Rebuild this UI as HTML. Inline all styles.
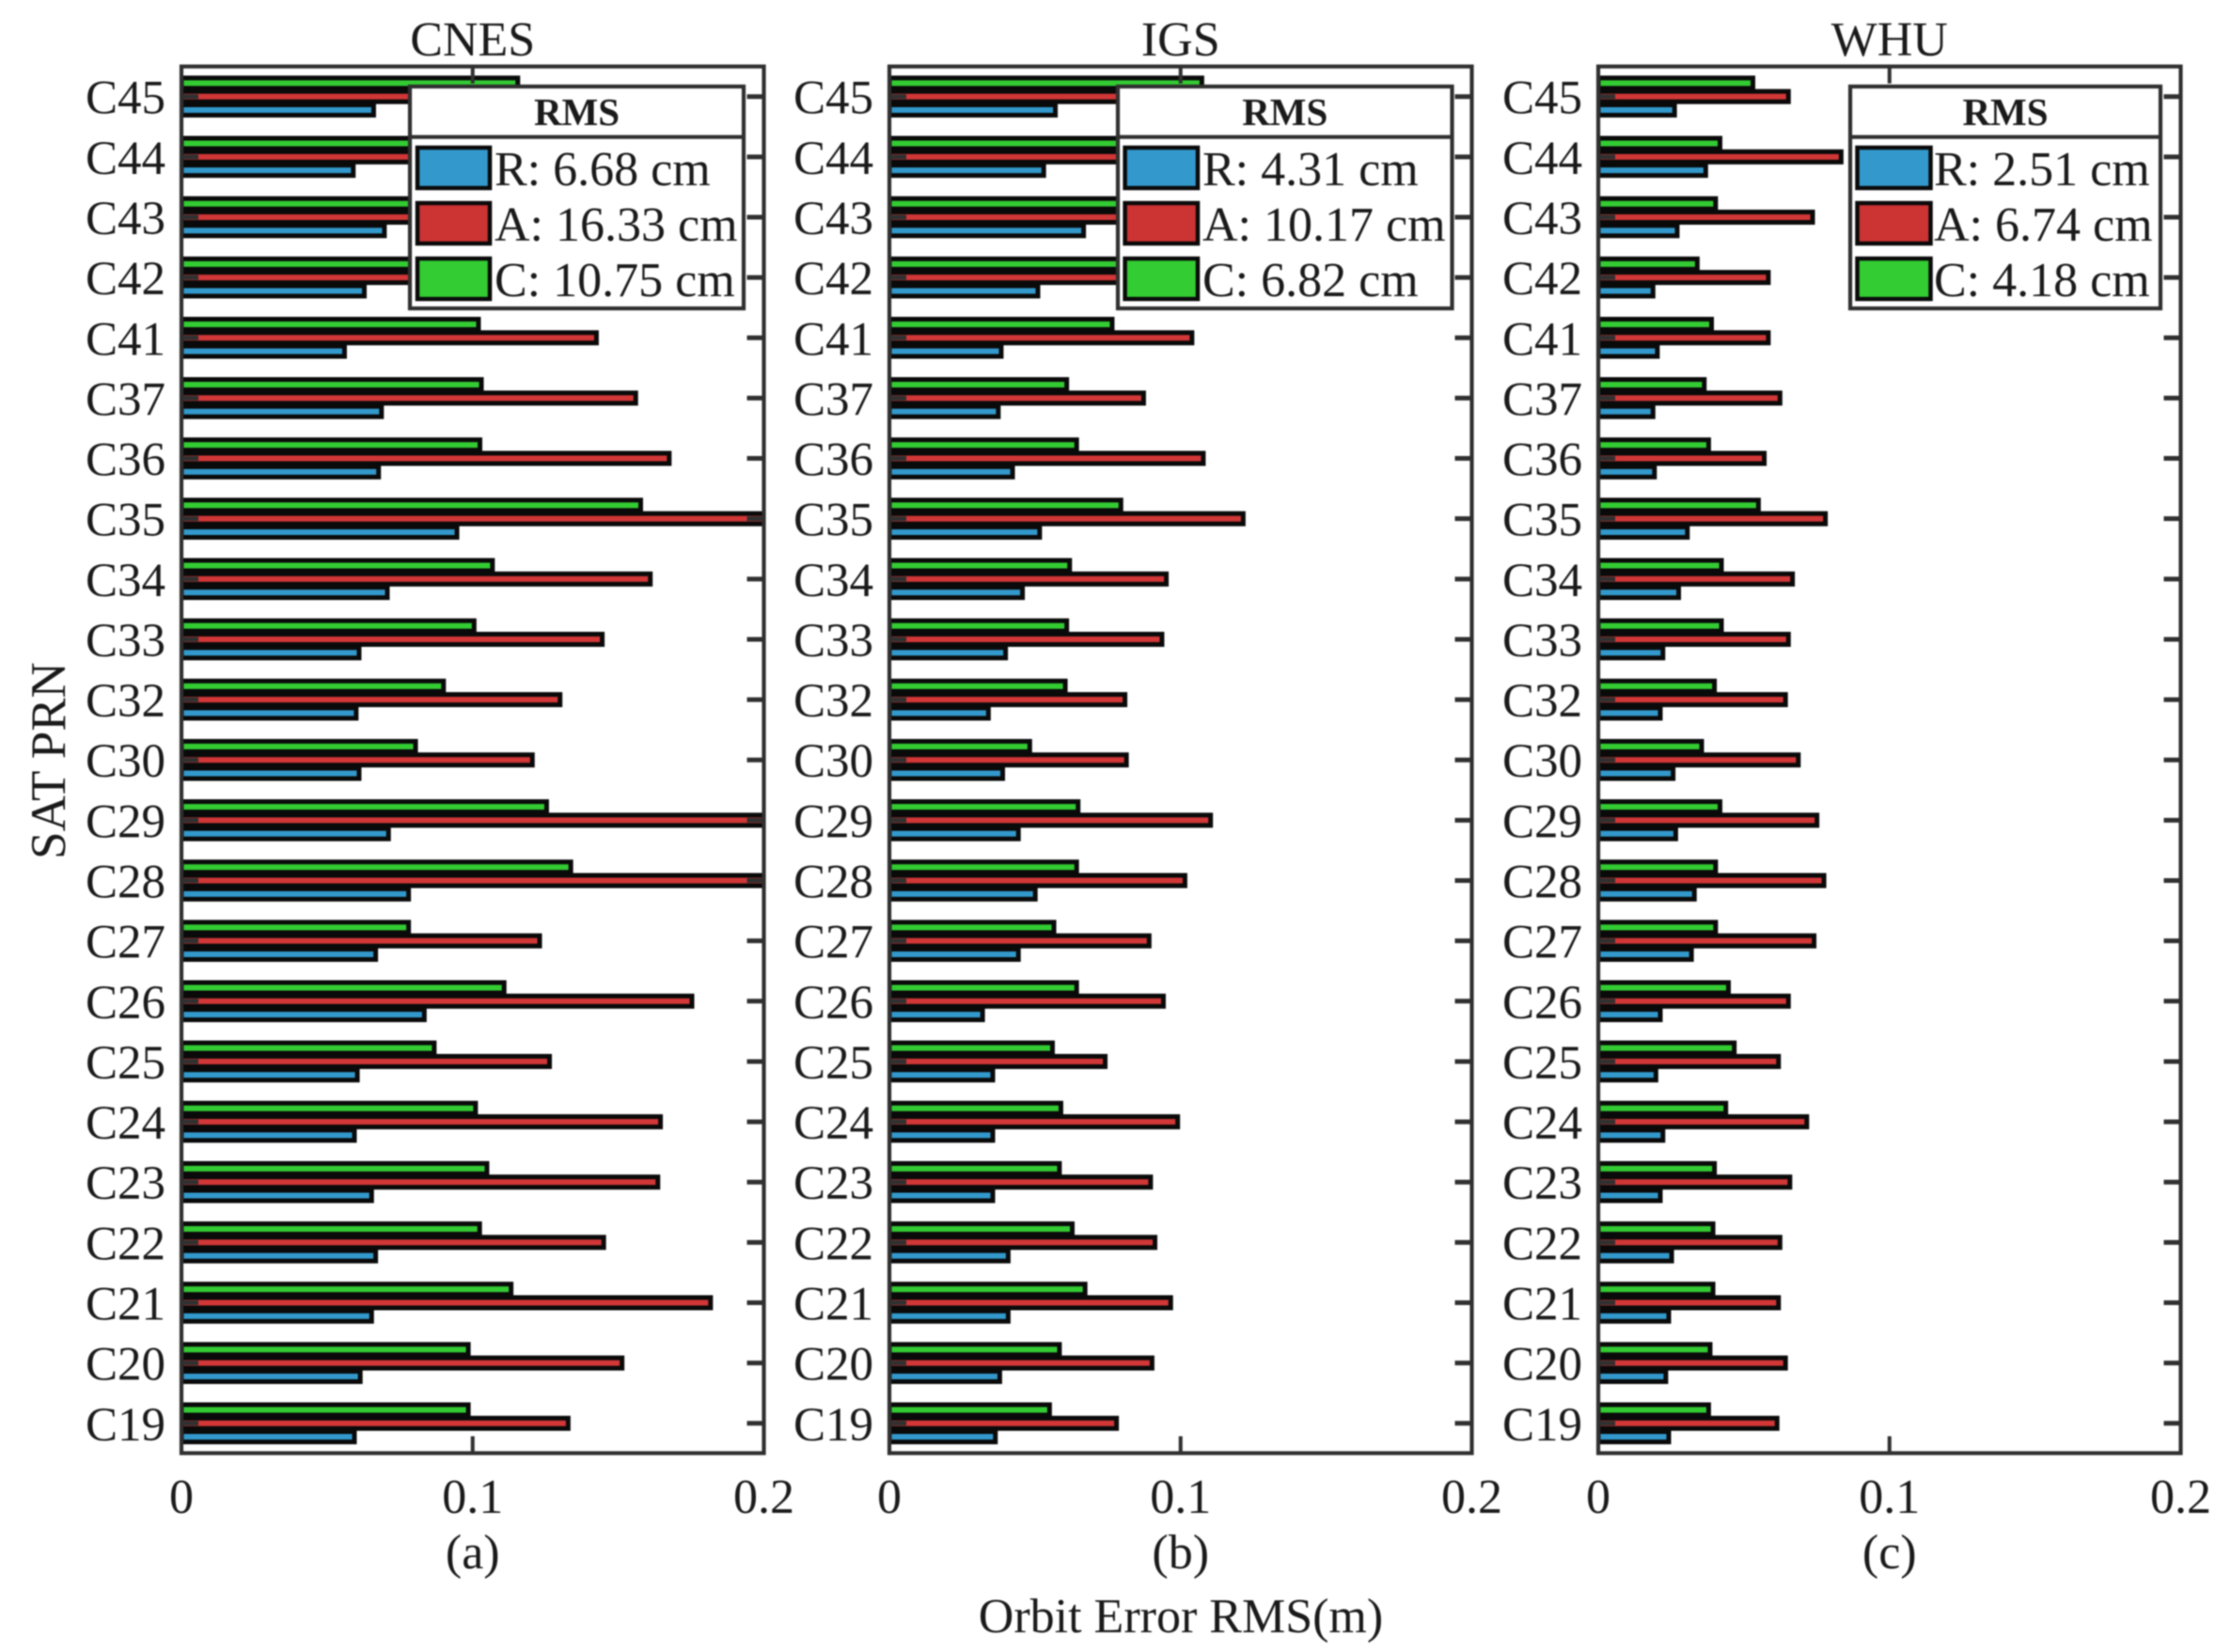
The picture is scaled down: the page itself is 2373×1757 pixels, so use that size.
<!DOCTYPE html>
<html lang="en">
<head>
<meta charset="utf-8">
<title>Orbit Error RMS by satellite PRN</title>
<style>
  html, body { margin: 0; padding: 0; background: #ffffff; }
  #figure { display: block; width: 2373px; height: 1757px; filter: blur(0.8px); }
  text { font-family: "Liberation Serif", serif; fill: #1a1a1a; }
</style>
</head>
<body>
<svg id="figure" xmlns="http://www.w3.org/2000/svg" width="2373" height="1757" viewBox="0 0 2373 1757">
  <rect x="0" y="0" width="2373" height="1757" fill="#ffffff"/>
  <g id="panels"></g>
  <text transform="translate(69,809) rotate(-90)" text-anchor="middle" font-size="53">SAT PRN</text>
  <text x="1256" y="1736" text-anchor="middle" font-size="52">Orbit Error RMS(m)</text>
</svg>
<script>
// Chart data: categories run from the top of each panel to the bottom.
const categories = ['C45','C44','C43','C42','C41','C37','C36','C35','C34','C33','C32','C30','C29','C28','C27','C26','C25','C24','C23','C22','C21','C20','C19'];
const xTickValues = [0, 0.1, 0.2];
const xTickLabels = ['0', '0.1', '0.2'];

const cnesRadial = [.066,.059,.0697,.0628,.056,.0687,.0677,.0946,.0707,.061,.06,.061,.0711,.078,.0667,.0834,.0604,.0594,.0653,.0667,.0653,.0614,.0594];
const cnesAlong  = [.16,.16,.16,.16,.1425,.156,.1675,.22,.161,.1445,.13,.1205,.22,.21,.123,.1753,.1264,.1645,.1636,.145,.1817,.1513,.1328];
const cnesCross  = [.1155,.105,.105,.10,.102,.103,.1025,.1577,.1068,.1005,.09,.0804,.1254,.1337,.078,.1108,.0868,.101,.1049,.1024,.1132,.0985,.0985];

const igsRadial = [.057,.053,.0667,.051,.0384,.0374,.0423,.0516,.0457,.0399,.034,.0389,.0443,.0501,.0443,.032,.0355,.0355,.0355,.0408,.0408,.0379,.0364];
const igsAlong  = [.12,.12,.12,.12,.1039,.0873,.1078,.1215,.0951,.0936,.0809,.0814,.1103,.1015,.0892,.0941,.0741,.099,.0897,.0912,.0966,.0902,.078];
const igsCross  = [.1073,.10,.10,.09,.0765,.0609,.0643,.0795,.0619,.0609,.0604,.0482,.0648,.0643,.0565,.0643,.056,.0589,.0584,.0628,.0672,.0584,.055];

const whuRadial = [.0262,.0369,.0271,.0188,.0203,.0188,.0193,.0306,.0276,.0222,.0213,.0257,.0266,.033,.032,.0213,.0198,.0222,.0213,.0252,.0242,.0232,.0242];
const whuAlong  = [.0653,.0834,.0736,.0584,.0584,.0624,.057,.078,.0667,.0653,.0643,.0687,.0751,.0775,.0741,.0653,.0619,.0716,.0658,.0624,.0619,.0643,.0614];
const whuCross  = [.0531,.0418,.0403,.034,.0389,.0364,.0379,.055,.0423,.0423,.0399,.0355,.0418,.0403,.0403,.0447,.0467,.0438,.0399,.0394,.0394,.0384,.0379];

const cnesLegendLabels = ['R: 6.68 cm', 'A: 16.33 cm', 'C: 10.75 cm'];
const igsLegendLabels  = ['R: 4.31 cm', 'A: 10.17 cm', 'C: 6.82 cm'];
const whuLegendLabels  = ['R: 2.51 cm', 'A: 6.74 cm', 'C: 4.18 cm'];

// Layout
const NS = 'http://www.w3.org/2000/svg';
const plotTop = 70.7, plotBottom = 1545.5, plotWidth = 619.5;
const firstCategoryY = 102.7, categoryStep = 64.14, barOffset = 14.3, barHeight = 11;
const tickLength = 18, xMax = 0.2;
const axisColor = '#303030';
const seriesFill = { radial: '#3399cc', along: '#d23737', cross: '#33cc33' };
const legendFill = ['#3399cc', '#cc3333', '#33cc33'];

const panelConfigs = [
  { key: 'cnes', title: 'CNES', caption: '(a)', left: 193,  radial: cnesRadial, along: cnesAlong, cross: cnesCross, labels: cnesLegendLabels,
    legend: { x0: 436,  x1: 791,  patchX0: 442,    patchX1: 523,    textX: 526 } },
  { key: 'igs',  title: 'IGS',  caption: '(b)', left: 946,  radial: igsRadial,  along: igsAlong,  cross: igsCross,  labels: igsLegendLabels,
    legend: { x0: 1189, x1: 1544.5, patchX0: 1194.6, patchX1: 1276,   textX: 1279 } },
  { key: 'whu',  title: 'WHU',  caption: '(c)', left: 1700, radial: whuRadial,  along: whuAlong,  cross: whuCross,  labels: whuLegendLabels,
    legend: { x0: 1968, x1: 2298, patchX0: 1973.5, patchX1: 2055.5, textX: 2057 } }
];

function yScale(index) {
  return firstCategoryY + index * categoryStep;
}
function xScale(panel, value) {
  return panel.left + (value / xMax) * plotWidth;
}
function make(tag, attrs, parent, text) {
  const el = document.createElementNS(NS, tag);
  for (const k in attrs) el.setAttribute(k, attrs[k]);
  if (text !== undefined) el.textContent = text;
  parent.appendChild(el);
  return el;
}

const panelsRoot = document.getElementById('panels');
const defs = make('defs', {}, panelsRoot);

panelConfigs.forEach(function (panel) {
  const g = make('g', {}, panelsRoot);
  
  

  const right = panel.left + plotWidth;
  const clip = make('clipPath', { id: 'clip-' + panel.key }, defs);
  make('rect', { x: panel.left, y: plotTop, width: plotWidth, height: plotBottom - plotTop }, clip);

  // Title and caption
  const title = make('text', { x: panel.left + plotWidth / 2, y: 59, 'text-anchor': 'middle', 'font-size': 52 }, g, panel.title);
  
  
  const caption = make('text', { x: panel.left + plotWidth / 2, y: 1668, 'text-anchor': 'middle', 'font-size': 52 }, g, panel.caption);
  
  

  // Bars
  const barsGroup = make('g', { 'clip-path': 'url(#clip-' + panel.key + ')' }, g);
  
  
  categories.forEach(function (cat, i) {
    const y = yScale(i);
    const crossBar = make('rect', { x: panel.left, y: y - barOffset - barHeight / 2, width: xScale(panel, panel.cross[i]) - panel.left, height: barHeight, fill: seriesFill.cross, stroke: '#0a0a0a', 'stroke-width': 5 }, barsGroup);
    
    
    const radialBar = make('rect', { x: panel.left, y: y + barOffset - barHeight / 2, width: xScale(panel, panel.radial[i]) - panel.left, height: barHeight, fill: seriesFill.radial, stroke: '#0a0a0a', 'stroke-width': 5 }, barsGroup);
    
    
    const alongBar = make('rect', { x: panel.left, y: y - barHeight / 2, width: xScale(panel, panel.along[i]) - panel.left, height: barHeight, fill: seriesFill.along, stroke: '#0a0a0a', 'stroke-width': 5 }, barsGroup);
    
    
  });

  // Y ticks and labels
  categories.forEach(function (cat, i) {
    const y = yScale(i);
    const leftTick = make('line', { x1: panel.left, x2: panel.left + tickLength, y1: y, y2: y, stroke: axisColor, 'stroke-width': 5 }, g);
    
    
    const rightTick = make('line', { x1: right - tickLength, x2: right, y1: y, y2: y, stroke: axisColor, 'stroke-width': 5 }, g);
    
    
    const label = make('text', { x: panel.left - 17, y: y + 18, 'text-anchor': 'end', 'font-size': 51 }, g, cat);
    
    
  });

  // X ticks and labels
  xTickValues.forEach(function (v, i) {
    const x = xScale(panel, v);
    if (v > 0 && v < xMax) {
      const topTick = make('line', { x1: x, x2: x, y1: plotTop, y2: plotTop + tickLength, stroke: axisColor, 'stroke-width': 4 }, g);
      
      
      const bottomTick = make('line', { x1: x, x2: x, y1: plotBottom - tickLength, y2: plotBottom, stroke: axisColor, 'stroke-width': 4 }, g);
      
      
    }
    const xLabel = make('text', { x: x, y: 1609, 'text-anchor': 'middle', 'font-size': 52 }, g, xTickLabels[i]);
    
    
  });

  // Axes box
  const box = make('rect', { x: panel.left, y: plotTop, width: plotWidth, height: plotBottom - plotTop, fill: 'none', stroke: axisColor, 'stroke-width': 4.2 }, g);
  
  

  // Legend
  const lg = panel.legend;
  const legendGroup = make('g', {}, g);
  
  
  const legendBox = make('rect', { x: lg.x0, y: 92, width: lg.x1 - lg.x0, height: 236, fill: '#ffffff', stroke: axisColor, 'stroke-width': 4.2 }, legendGroup);
  
  
  const divider = make('line', { x1: lg.x0, x2: lg.x1, y1: 145.7, y2: 145.7, stroke: axisColor, 'stroke-width': 4.2 }, legendGroup);
  
  
  const heading = make('text', { x: (lg.x0 + lg.x1) / 2, y: 133, 'text-anchor': 'middle', 'font-size': 41, 'font-weight': 700 }, legendGroup, 'RMS');
  
  
  const entryTops = [157, 216, 275];
  const entryBaselines = [197, 256, 315];
  panel.labels.forEach(function (text, i) {
    const patch = make('rect', { x: lg.patchX0 + 2, y: entryTops[i], width: lg.patchX1 - lg.patchX0 - 4, height: 43, fill: legendFill[i], stroke: '#0a0a0a', 'stroke-width': 4.5 }, legendGroup);
    
    
    const entry = make('text', { x: lg.textX, y: entryBaselines[i], 'font-size': 52 }, legendGroup, text);
    
    
  });
});
</script>
</body>
</html>
